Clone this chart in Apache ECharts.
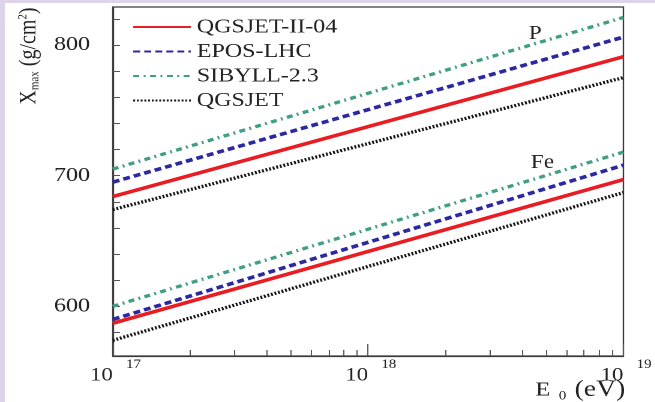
<!DOCTYPE html>
<html>
<head>
<meta charset="utf-8">
<script src="https://cdn.jsdelivr.net/npm/echarts@6/dist/echarts.min.js"></script>
<style>
  html, body { margin: 0; padding: 0; width: 655px; height: 402px; overflow: hidden; background: #ddd4ea; }
  #panel { position: absolute; left: 5px; top: 3px; right: 0; bottom: 0; background: #ffffff; }
  /* the figure is drawn in a narrower box and widened to the page */
  #chart { position: absolute; left: 0; top: 0; width: 546px; height: 402px; transform: scaleX(1.2); transform-origin: 0 0; }
</style>
</head>
<body>
<div id="panel"></div>
<div id="chart"></div>
<script>
// Primary energy (eV) at the two ends of each model curve
const energies = [1e17, 1e19];

// Mean depth of shower maximum Xmax (g/cm^2), proton primaries
const pQgsjetII04 = [684, 791];
const pEposLhc    = [695, 806];
const pSibyll23   = [705, 821];
const pQgsjet     = [674, 775];

// Mean depth of shower maximum Xmax (g/cm^2), iron primaries
const feQgsjetII04 = [587, 697];
const feEposLhc    = [590, 708];
const feSibyll23   = [600, 718];
const feQgsjet     = [574, 687];

const modelNames = ['QGSJET-II-04', 'EPOS-LHC', 'SIBYLL-2.3', 'QGSJET'];

// Axis ticks and labels
const xMajorTicks = [1e17, 1e18, 1e19];
const xMajorBase = '10';
const xMajorExponents = ['17', '18', '19'];
const xMinorTicks = [2e17, 3e17, 4e17, 5e17, 6e17, 7e17, 8e17, 9e17,
                     2e18, 3e18, 4e18, 5e18, 6e18, 7e18, 8e18, 9e18];
const yMinorTicks = [580, 600, 620, 640, 660, 680, 700, 720, 740, 760, 780, 800, 820];
const yLabelValues = [600, 700, 800];

const serif = '"Liberation Serif", "DejaVu Serif", serif';
const ink = '#222222';

const styles = {
  'QGSJET-II-04': { color: '#e81c22', width: 3.6, type: 'solid' },
  'EPOS-LHC':     { color: '#2c28a2', width: 3.6, type: [5.8, 3.4] },
  'SIBYLL-2.3':   { color: '#3f9e84', width: 3.3, type: [5, 3.7, 1.6, 3.7] },
  'QGSJET':       { color: '#141414', width: 3.3, type: [1.6, 1.5] }
};

function pairs(vals) { return energies.map((e, i) => [e, vals[i]]); }

function makeSeries(name, vals) {
  const s = styles[name];
  return {
    name: name,
    type: 'line',
    xAxisIndex: 0,
    symbol: 'none',
    silent: true,
    data: pairs(vals),
    itemStyle: { color: s.color },
    lineStyle: { color: s.color, width: s.width, type: s.type, cap: 'butt' }
  };
}

const series = [
  makeSeries('QGSJET-II-04', pQgsjetII04),
  makeSeries('EPOS-LHC', pEposLhc),
  makeSeries('SIBYLL-2.3', pSibyll23),
  makeSeries('QGSJET', pQgsjet),
  makeSeries('QGSJET-II-04', feQgsjetII04),
  makeSeries('EPOS-LHC', feEposLhc),
  makeSeries('SIBYLL-2.3', feSibyll23),
  makeSeries('QGSJET', feQgsjet)
];

function majorIndex(v) {
  return xMajorTicks.findIndex(t => Math.abs(t - v) / t < 1e-6);
}

const chart = echarts.init(document.getElementById('chart'), null, { renderer: 'canvas', devicePixelRatio: 2 });

const frameColor = '#3a3a3a';

chart.setOption({
  animation: false,
  backgroundColor: 'transparent',
  grid: { left: 94, right: 25, top: 7, bottom: 46, show: true, borderColor: frameColor, borderWidth: 1.2, backgroundColor: 'transparent' },
  legend: {
    data: modelNames,
    orient: 'vertical',
    left: 110,
    top: 17,
    padding: 0,
    itemWidth: 48,
    itemHeight: 14,
    itemGap: 4.5,
    itemTextGap: 5,
    selectedMode: false,
    itemStyle: { color: 'transparent', borderWidth: 0, opacity: 0 },
    textStyle: { fontFamily: serif, fontSize: 20, lineHeight: 20, color: ink }
  },
  xAxis: [
    {
      // minor ticks and the mantissa "10" of each decade label
      type: 'log', logBase: 10, min: 1e17, max: 1e19, position: 'bottom',
      axisLine: { show: true, lineStyle: { color: frameColor, width: 1.2 } },
      axisTick: { show: true, inside: true, length: 6, customValues: xMinorTicks, lineStyle: { color: '#555', width: 1 } },
      axisLabel: {
        show: true,
        customValues: xMajorTicks,
        margin: 10,
        align: 'right',
        fontFamily: serif,
        fontSize: 19,
        color: ink,
        formatter: function () { return xMajorBase; }
      },
      splitLine: { show: false }
    },
    {
      // decade ticks and the exponents
      type: 'log', logBase: 10, min: 1e17, max: 1e19, position: 'bottom',
      axisLine: { show: false },
      axisTick: { show: true, inside: true, length: 12, customValues: xMajorTicks, lineStyle: { color: '#555', width: 1 } },
      axisLabel: {
        show: true,
        customValues: xMajorTicks,
        margin: 2,
        align: 'left',
        padding: [0, 0, 0, 11],
        fontFamily: serif,
        fontSize: 12.5,
        color: ink,
        formatter: function (v) { return xMajorExponents[majorIndex(v)]; }
      },
      splitLine: { show: false }
    }
  ],
  yAxis: {
    type: 'value', min: 562, max: 829,
    axisLine: { show: true, lineStyle: { color: frameColor, width: 1.2 } },
    axisTick: { show: true, inside: true, length: 6, customValues: yMinorTicks, lineStyle: { color: '#555', width: 1 } },
    axisLabel: { show: true, customValues: yLabelValues, margin: 19, fontFamily: serif, fontSize: 20, color: ink },
    splitLine: { show: false }
  },
  graphic: [
    {
      type: 'text', x: 24, y: 56, rotation: Math.PI / 2,
      style: {
        text: 'X{sub|max} (g/cm{sup|2})',
        fontFamily: serif, fontSize: 20, fill: ink,
        align: 'center', verticalAlign: 'middle',
        rich: {
          sub: { fontFamily: serif, fontSize: 11, fill: ink, verticalAlign: 'bottom', padding: [8, 0, 0, 0] },
          sup: { fontFamily: serif, fontSize: 11, fill: ink, verticalAlign: 'top', padding: [0, 0, 10, 0] }
        }
      }
    },
    {
      type: 'text', x: 521, y: 390,
      style: {
        text: '{e|E}{sub|0}{u|(eV)}',
        fill: ink,
        align: 'right', verticalAlign: 'middle',
        rich: {
          e: { fontFamily: serif, fontSize: 20.5, fill: ink },
          sub: { fontFamily: serif, fontSize: 12.5, fill: ink, padding: [12, 7, 0, 7] },
          u: { fontFamily: serif, fontSize: 23, fill: ink }
        }
      }
    },
    {
      type: 'text', x: 446, y: 34,
      style: { text: 'P', fontFamily: serif, fontSize: 19.5, fill: ink, align: 'center', verticalAlign: 'middle' }
    },
    {
      type: 'text', x: 452, y: 163,
      style: { text: 'Fe', fontFamily: serif, fontSize: 19.5, fill: ink, align: 'center', verticalAlign: 'middle' }
    }
  ],
  series: series
});
</script>
</body>
</html>
